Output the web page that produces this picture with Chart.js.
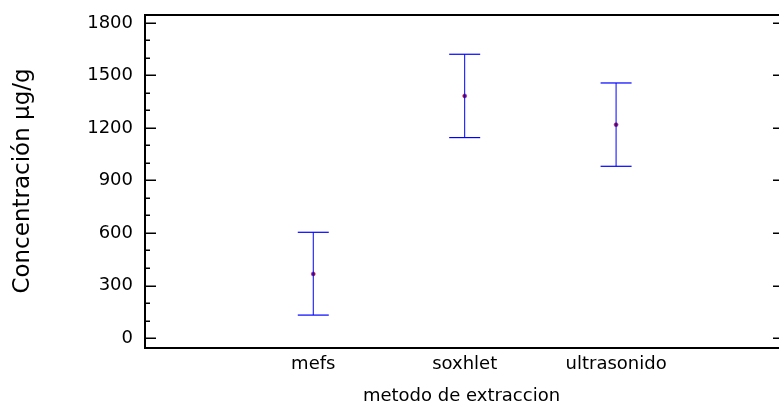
<!DOCTYPE html>
<html>
<head>
<meta charset="utf-8">
<script src="https://cdn.jsdelivr.net/npm/chart.js@4.4.0/dist/chart.umd.min.js"></script>
<style>
  html, body { margin: 0; padding: 0; background: #fff; }
  #contenedor { width: 779px; height: 409px; }
</style>
</head>
<body>
<div id="contenedor"><canvas id="graficoMetodos"></canvas></div>
<script>
// Datos
const metodos = ['mefs', 'soxhlet', 'ultrasonido'];
const medias = [366, 1383, 1219];
const limiteInferior = [131, 1145, 981];
const limiteSuperior = [604, 1621, 1457];
const ticksY = [0, 300, 600, 900, 1200, 1500, 1800];
const ticksMenoresY = [100, 200, 400, 500, 700, 800, 1000, 1100, 1300, 1400, 1600, 1700];

const azul = '#0000ff';

// Marco y marcas de los ejes (hacia dentro, como en el original)
const marco = {
    id: 'marco',
    afterDraw(chart) {
        const { ctx, chartArea: a, scales: { y } } = chart;
        ctx.save();
        ctx.strokeStyle = '#000';
        ctx.lineWidth = 1.5;
        ctx.beginPath();
        ticksY.forEach(v => {
            const py = Math.round(y.getPixelForValue(v)) + 0.25;
            ctx.moveTo(a.left, py);
            ctx.lineTo(a.left + 12, py);
            ctx.moveTo(a.right, py);
            ctx.lineTo(a.right - 6, py);
        });
        ticksMenoresY.forEach(v => {
            const py = Math.round(y.getPixelForValue(v)) + 0.25;
            ctx.moveTo(a.left, py);
            ctx.lineTo(a.left + 6, py);
        });
        ctx.stroke();
        ctx.lineWidth = 2;
        ctx.beginPath();
        ctx.moveTo(a.right, a.top + 1);
        ctx.lineTo(a.left + 1, a.top + 1);
        ctx.lineTo(a.left + 1, a.bottom);
        ctx.lineTo(a.right, a.bottom);
        ctx.stroke();
        ctx.restore();
    }
};

function crearGrafico() {
    const ctx = document.getElementById('graficoMetodos');
    if (!ctx) {
        console.error("No se encontro el canvas 'graficoMetodos'");
        return;
    }

    // Una serie por metodo: linea vertical con remates horizontales
    const barrasError = metodos.map((m, i) => ({
        label: 'intervalo ' + m,
        data: [
            { x: i + 1, y: limiteInferior[i] },
            { x: i + 1, y: limiteSuperior[i] }
        ],
        showLine: true,
        borderColor: azul,
        borderWidth: 1,
        pointStyle: 'line',
        pointRadius: 15.5,
        pointBorderColor: azul,
        pointBorderWidth: 1.2,
        pointHoverRadius: 15.5
    }));

    const puntosMedia = {
        label: 'media',
        data: medias.map((v, i) => ({ x: i + 1, y: v })),
        showLine: false,
        pointStyle: 'circle',
        pointRadius: 2,
        pointBackgroundColor: '#8a0a3c',
        pointBorderColor: '#b0306a',
        pointBorderWidth: 0.6
    };

    new Chart(ctx.getContext('2d'), {
        type: 'scatter',
        data: { datasets: [...barrasError, puntosMedia] },
        options: {
            responsive: true,
            maintainAspectRatio: false,
            animation: false,
            layout: {
                autoPadding: false,
                padding: { top: 14, right: 0, left: 0, bottom: 0 }
            },
            plugins: {
                legend: { display: false },
                tooltip: { enabled: false }
            },
            scales: {
                x: {
                    type: 'linear',
                    min: -0.118,
                    max: 4.076,
                    grid: { display: false, drawTicks: false },
                    border: { display: false },
                    afterFit: s => {
                        s.height = 61;
                        s.paddingLeft = 0;
                        s.paddingRight = 0;
                    },
                    afterBuildTicks: s => { s.ticks = metodos.map((m, i) => ({ value: i + 1 })); },
                    ticks: {
                        padding: 6,
                        color: '#000',
                        font: { family: 'DejaVu Sans', size: 18 },
                        callback: v => metodos[v - 1]
                    },
                    title: {
                        display: true,
                        text: 'metodo de extraccion',
                        color: '#000',
                        font: { family: 'DejaVu Sans', size: 18 },
                        padding: { top: 0, bottom: 2 }
                    }
                },
                y: {
                    min: -57,
                    max: 1851,
                    grid: { display: false, drawTicks: false },
                    border: { display: false },
                    afterFit: s => {
                        s.width = 144;
                        s.paddingTop = 0;
                        s.paddingBottom = 0;
                    },
                    afterBuildTicks: s => { s.ticks = ticksY.map(v => ({ value: v })); },
                    ticks: {
                        padding: 11,
                        color: '#000',
                        font: { family: 'DejaVu Sans', size: 18 },
                        callback: v => String(v)
                    },
                    title: {
                        display: true,
                        text: 'Concentración µg/g',
                        color: '#000',
                        font: { family: 'DejaVu Sans', size: 23 },
                        padding: { top: 9, bottom: 0 }
                    }
                }
            }
        },
        plugins: [marco]
    });
}

document.addEventListener('DOMContentLoaded', crearGrafico);
</script>
</body>
</html>
